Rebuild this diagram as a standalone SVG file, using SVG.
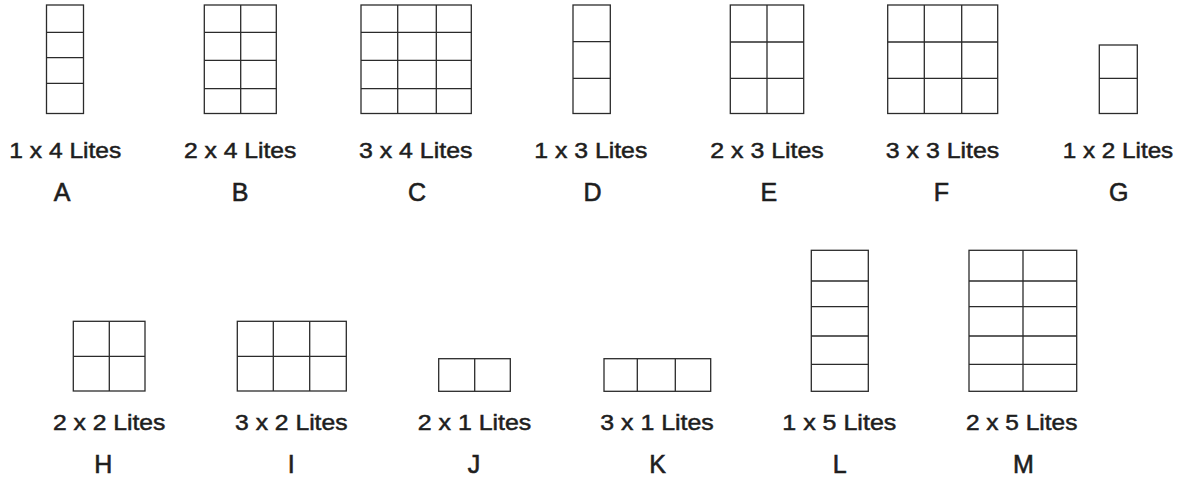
<svg xmlns="http://www.w3.org/2000/svg" width="1182" height="482" viewBox="0 0 1182 482">
<style>
.fr{fill:none;stroke:#2b2b2b;stroke-width:1.3}
.dv{stroke:#2b2b2b;stroke-width:1.3}
.lb{font-family:"Liberation Sans",Arial,sans-serif;font-size:22.5px;fill:#1e1e1e;text-anchor:middle;stroke:#1e1e1e;stroke-width:0.5}
.lt{font-family:"Liberation Sans",Arial,sans-serif;font-size:25px;fill:#1e1e1e;text-anchor:middle;stroke:#1e1e1e;stroke-width:0.6}
</style>
<rect width="1182" height="482" fill="#fff"/>
<g id="A">
<rect class="fr" x="46.5" y="5" width="37" height="108.5"/>
<path class="dv" d="M46.5 32.3H83.5M46.5 57.7H83.5M46.5 83.3H83.5"/>
<text class="lb" x="65.3" y="158" textLength="112" lengthAdjust="spacingAndGlyphs">1 x 4 Lites</text>
<text class="lt" x="62" y="201">A</text>
</g>
<g id="B">
<rect class="fr" x="204.3" y="5" width="72" height="108.5"/>
<path class="dv" d="M240.7 5V113.5M204.3 32.3H276.3M204.3 60.3H276.3M204.3 88.7H276.3"/>
<text class="lb" x="240.2" y="158" textLength="112.5" lengthAdjust="spacingAndGlyphs">2 x 4 Lites</text>
<text class="lt" x="240" y="201">B</text>
</g>
<g id="C">
<rect class="fr" x="361" y="5" width="110.3" height="108.5"/>
<path class="dv" d="M397.7 5V113.5M436.3 5V113.5M361 32.3H471.3M361 60.3H471.3M361 88.7H471.3"/>
<text class="lb" x="415.7" y="158" textLength="113.5" lengthAdjust="spacingAndGlyphs">3 x 4 Lites</text>
<text class="lt" x="417" y="201">C</text>
</g>
<g id="D">
<rect class="fr" x="573" y="5" width="37.3" height="108.5"/>
<path class="dv" d="M573 41.7H610.3M573 78.3H610.3"/>
<text class="lb" x="590.8" y="158" textLength="113" lengthAdjust="spacingAndGlyphs">1 x 3 Lites</text>
<text class="lt" x="592.5" y="201">D</text>
</g>
<g id="E">
<rect class="fr" x="730.3" y="5" width="73.4" height="108.5"/>
<path class="dv" d="M767 5V113.5M730.3 42H803.7M730.3 78.3H803.7"/>
<text class="lb" x="767" y="158" textLength="113.5" lengthAdjust="spacingAndGlyphs">2 x 3 Lites</text>
<text class="lt" x="768.8" y="201">E</text>
</g>
<g id="F">
<rect class="fr" x="887.7" y="5" width="110" height="108.5"/>
<path class="dv" d="M924.3 5V113.5M961.7 5V113.5M887.7 42H997.7M887.7 78.3H997.7"/>
<text class="lb" x="942.5" y="158" textLength="113.5" lengthAdjust="spacingAndGlyphs">3 x 3 Lites</text>
<text class="lt" x="941.5" y="201">F</text>
</g>
<g id="G">
<rect class="fr" x="1099.3" y="45" width="38" height="68.5"/>
<path class="dv" d="M1099.3 78.3H1137.3"/>
<text class="lb" x="1118" y="158" textLength="110.5" lengthAdjust="spacingAndGlyphs">1 x 2 Lites</text>
<text class="lt" x="1118.7" y="201">G</text>
</g>
<g id="H">
<rect class="fr" x="73.3" y="321.3" width="71.7" height="69.7"/>
<path class="dv" d="M109.3 321.3V391M73.3 356.3H145"/>
<text class="lb" x="109.2" y="430" textLength="112.5" lengthAdjust="spacingAndGlyphs">2 x 2 Lites</text>
<text class="lt" x="103.2" y="473">H</text>
</g>
<g id="I">
<rect class="fr" x="237.3" y="321.3" width="109" height="69.7"/>
<path class="dv" d="M273.3 321.3V391M309.7 321.3V391M237.3 356.3H346.3"/>
<text class="lb" x="291.3" y="430" textLength="112.5" lengthAdjust="spacingAndGlyphs">3 x 2 Lites</text>
<text class="lt" x="291.3" y="473">I</text>
</g>
<g id="J">
<rect class="fr" x="438.7" y="358.7" width="71.6" height="32.6"/>
<path class="dv" d="M474.7 358.7V391.3"/>
<text class="lb" x="474.5" y="430" textLength="113.5" lengthAdjust="spacingAndGlyphs">2 x 1 Lites</text>
<text class="lt" x="474" y="473">J</text>
</g>
<g id="K">
<rect class="fr" x="604" y="358.7" width="106.7" height="32.6"/>
<path class="dv" d="M637.3 358.7V391.3M675.3 358.7V391.3"/>
<text class="lb" x="657" y="430" textLength="113.5" lengthAdjust="spacingAndGlyphs">3 x 1 Lites</text>
<text class="lt" x="657.5" y="473">K</text>
</g>
<g id="L">
<rect class="fr" x="811.3" y="250.3" width="57" height="141"/>
<path class="dv" d="M811.3 281H868.3M811.3 306.7H868.3M811.3 336H868.3M811.3 364.3H868.3"/>
<text class="lb" x="839.3" y="430" textLength="114" lengthAdjust="spacingAndGlyphs">1 x 5 Lites</text>
<text class="lt" x="839.6" y="473">L</text>
</g>
<g id="M">
<rect class="fr" x="969" y="250.3" width="107.7" height="141"/>
<path class="dv" d="M1023 250.3V391.3M969 281H1076.7M969 306.7H1076.7M969 336H1076.7M969 364.3H1076.7"/>
<text class="lb" x="1021.7" y="430" textLength="111.5" lengthAdjust="spacingAndGlyphs">2 x 5 Lites</text>
<text class="lt" x="1023.3" y="473">M</text>
</g>
<g id="connectors"></g>
</svg>
